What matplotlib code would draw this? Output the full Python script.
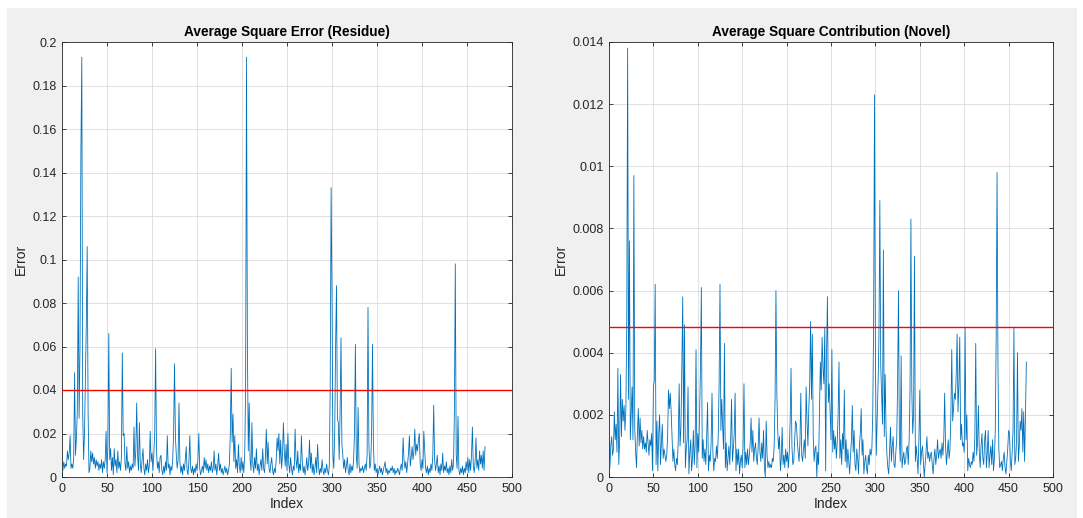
import matplotlib
matplotlib.use("Agg")
import matplotlib.pyplot as plt
from matplotlib.patches import Rectangle
from matplotlib.ticker import FuncFormatter

plt.rcParams['font.family'] = ['Liberation Sans', 'DejaVu Sans']

# ---------------- data ----------------
residue = [
    0.003, 0.007, 0.004, 0.006, 0.005, 0.012, 0.008, 0.011, 0.019, 0.004,
    0.006, 0.004, 0.009, 0.048, 0.010, 0.018, 0.030, 0.092, 0.027, 0.060,
    0.150, 0.193, 0.030, 0.008, 0.020, 0.045, 0.070, 0.106, 0.030, 0.002,
    0.004, 0.012, 0.007, 0.011, 0.006, 0.009, 0.004, 0.008, 0.005, 0.007,
    0.003, 0.006, 0.004, 0.008, 0.002, 0.007, 0.004, 0.008, 0.021, 0.002,
    0.014, 0.066, 0.008, 0.013, 0.003, 0.009, 0.001, 0.013, 0.005, 0.008,
    0.002, 0.012, 0.004, 0.007, 0.003, 0.009, 0.057, 0.019, 0.020, 0.006,
    0.003, 0.014, 0.004, 0.007, 0.002, 0.005, 0.003, 0.006, 0.004, 0.023,
    0.005, 0.012, 0.034, 0.010, 0.003, 0.025, 0.006, 0.002, 0.008, 0.013,
    0.004, 0.001, 0.006, 0.003, 0.008, 0.002, 0.005, 0.021, 0.007, 0.011,
    0.003, 0.010, 0.020, 0.059, 0.012, 0.004, 0.007, 0.002, 0.009, 0.010,
    0.003, 0.001, 0.005, 0.002, 0.007, 0.003, 0.019, 0.004, 0.006, 0.001,
    0.005, 0.003, 0.008, 0.020, 0.052, 0.019, 0.010, 0.004, 0.008, 0.034,
    0.007, 0.002, 0.005, 0.001, 0.006, 0.003, 0.008, 0.014, 0.003, 0.001,
    0.007, 0.019, 0.004, 0.002, 0.005, 0.001, 0.004, 0.002, 0.006, 0.003,
    0.008, 0.020, 0.004, 0.001, 0.003, 0.005, 0.002, 0.009, 0.004, 0.008,
    0.003, 0.006, 0.002, 0.005, 0.003, 0.007, 0.002, 0.004, 0.012, 0.003,
    0.006, 0.001, 0.005, 0.011, 0.003, 0.006, 0.002, 0.004, 0.001, 0.003,
    0.005, 0.002, 0.004, 0.001, 0.003, 0.006, 0.020, 0.050, 0.016, 0.029,
    0.007, 0.019, 0.004, 0.008, 0.002, 0.015, 0.005, 0.002, 0.009, 0.003,
    0.007, 0.002, 0.010, 0.040, 0.193, 0.060, 0.012, 0.034, 0.008, 0.003,
    0.025, 0.006, 0.002, 0.009, 0.004, 0.013, 0.003, 0.006, 0.001, 0.005,
    0.008, 0.003, 0.013, 0.004, 0.002, 0.009, 0.022, 0.006, 0.016, 0.004,
    0.002, 0.006, 0.009, 0.003, 0.001, 0.004, 0.002, 0.008, 0.018, 0.012,
    0.020, 0.006, 0.017, 0.004, 0.010, 0.025, 0.012, 0.005, 0.015, 0.003,
    0.020, 0.006, 0.002, 0.009, 0.004, 0.001, 0.005, 0.003, 0.022, 0.008,
    0.004, 0.012, 0.002, 0.006, 0.003, 0.019, 0.007, 0.002, 0.005, 0.001,
    0.004, 0.009, 0.003, 0.006, 0.017, 0.004, 0.011, 0.002, 0.006, 0.001,
    0.004, 0.009, 0.002, 0.015, 0.005, 0.001, 0.004, 0.002, 0.008, 0.003,
    0.001, 0.004, 0.002, 0.006, 0.003, 0.001, 0.005, 0.040, 0.133, 0.085,
    0.010, 0.004, 0.020, 0.060, 0.088, 0.027, 0.025, 0.008, 0.030, 0.064,
    0.015, 0.010, 0.004, 0.008, 0.002, 0.005, 0.009, 0.003, 0.001, 0.006,
    0.002, 0.005, 0.003, 0.008, 0.020, 0.061, 0.010, 0.004, 0.032, 0.006,
    0.002, 0.004, 0.003, 0.005, 0.002, 0.004, 0.006, 0.003, 0.010, 0.078,
    0.015, 0.004, 0.006, 0.020, 0.061, 0.015, 0.003, 0.006, 0.002, 0.004,
    0.001, 0.003, 0.005, 0.002, 0.004, 0.001, 0.003, 0.005, 0.007, 0.002,
    0.004, 0.001, 0.003, 0.002, 0.004, 0.003, 0.005, 0.002, 0.004, 0.001,
    0.003, 0.002, 0.004, 0.003, 0.001, 0.004, 0.006, 0.003, 0.018, 0.008,
    0.004, 0.007, 0.002, 0.006, 0.011, 0.019, 0.005, 0.009, 0.014, 0.008,
    0.012, 0.022, 0.010, 0.015, 0.012, 0.017, 0.020, 0.006, 0.003, 0.008,
    0.004, 0.021, 0.012, 0.004, 0.002, 0.005, 0.001, 0.004, 0.002, 0.006,
    0.003, 0.010, 0.033, 0.008, 0.003, 0.006, 0.010, 0.002, 0.005, 0.001,
    0.006, 0.003, 0.011, 0.002, 0.005, 0.003, 0.007, 0.002, 0.004, 0.001,
    0.005, 0.002, 0.008, 0.003, 0.006, 0.030, 0.098, 0.010, 0.004, 0.028,
    0.003, 0.001, 0.004, 0.002, 0.005, 0.001, 0.004, 0.002, 0.007, 0.003,
    0.009, 0.002, 0.008, 0.003, 0.010, 0.023, 0.005, 0.002, 0.007, 0.018,
    0.004, 0.008, 0.003, 0.012, 0.006, 0.010, 0.004, 0.012, 0.003, 0.014,
]

novel = [
    0.0003, 0.0010, 0.0013, 0.0007, 0.0009, 0.0021, 0.0012, 0.0017, 0.0008, 0.0035,
    0.0004, 0.0012, 0.0033, 0.0013, 0.0025, 0.0018, 0.0023, 0.0015, 0.0022, 0.0050,
    0.0138, 0.0025, 0.0076, 0.0012, 0.0020, 0.0029, 0.0012, 0.0097, 0.0016, 0.0008,
    0.0003, 0.0014, 0.0022, 0.0010, 0.0019, 0.0011, 0.0015, 0.0009, 0.0013, 0.0009,
    0.0011, 0.0008, 0.0015, 0.0011, 0.0007, 0.0012, 0.0010, 0.0014, 0.0002, 0.0029,
    0.0031, 0.0062, 0.0004, 0.0018, 0.0002, 0.0014, 0.0020, 0.0004, 0.0011, 0.0017,
    0.0006, 0.0009, 0.0007, 0.0005, 0.0007, 0.0013, 0.0028, 0.0022, 0.0027, 0.0021,
    0.0013, 0.0005, 0.0009, 0.0004, 0.0002, 0.0006, 0.0004, 0.0012, 0.0030, 0.0010,
    0.0016, 0.0035, 0.0058, 0.0011, 0.0049, 0.0003, 0.0009, 0.0012, 0.0029, 0.0001,
    0.0008, 0.0012, 0.0002, 0.0006, 0.0015, 0.0004, 0.0010, 0.0041, 0.0003, 0.0014,
    0.0008, 0.0020, 0.0035, 0.0061, 0.0006, 0.0012, 0.0005, 0.0009, 0.0004, 0.0013,
    0.0024, 0.0002, 0.0007, 0.0005, 0.0011, 0.0027, 0.0008, 0.0002, 0.0006, 0.0005,
    0.0010, 0.0006, 0.0013, 0.0030, 0.0062, 0.0015, 0.0025, 0.0016, 0.0009, 0.0043,
    0.0003, 0.0011, 0.0002, 0.0006, 0.0010, 0.0004, 0.0012, 0.0025, 0.0005, 0.0009,
    0.0014, 0.0027, 0.0002, 0.0009, 0.0004, 0.0009, 0.0001, 0.0005, 0.0007, 0.0003,
    0.0010, 0.0030, 0.0003, 0.0008, 0.0004, 0.0009, 0.0004, 0.0007, 0.0011, 0.0019,
    0.0008, 0.0015, 0.0005, 0.0009, 0.0011, 0.0006, 0.0004, 0.0010, 0.0019, 0.0008,
    0.0005, 0.0011, 0.0006, 0.0015, 0.0003, 0.0000, 0.0018, 0.0007, 0.0003, 0.0005,
    0.0003, 0.0004, 0.0003, 0.0006, 0.0005, 0.0010, 0.0025, 0.0060, 0.0027, 0.0015,
    0.0009, 0.0013, 0.0002, 0.0006, 0.0016, 0.0004, 0.0007, 0.0003, 0.0009, 0.0005,
    0.0008, 0.0003, 0.0008, 0.0018, 0.0035, 0.0010, 0.0004, 0.0005, 0.0011, 0.0018,
    0.0017, 0.0012, 0.0008, 0.0005, 0.0011, 0.0027, 0.0007, 0.0005, 0.0009, 0.0012,
    0.0006, 0.0029, 0.0018, 0.0010, 0.0022, 0.0030, 0.0050, 0.0025, 0.0046, 0.0013,
    0.0005, 0.0009, 0.0010, 0.0000, 0.0008, 0.0004, 0.0020, 0.0037, 0.0028, 0.0045,
    0.0035, 0.0030, 0.0048, 0.0002, 0.0040, 0.0058, 0.0024, 0.0030, 0.0021, 0.0012,
    0.0041, 0.0008, 0.0015, 0.0009, 0.0013, 0.0006, 0.0011, 0.0020, 0.0037, 0.0006,
    0.0012, 0.0004, 0.0014, 0.0009, 0.0028, 0.0005, 0.0012, 0.0003, 0.0009, 0.0005,
    0.0001, 0.0007, 0.0012, 0.0023, 0.0008, 0.0015, 0.0004, 0.0002, 0.0009, 0.0006,
    0.0001, 0.0010, 0.0014, 0.0022, 0.0007, 0.0012, 0.0001, 0.0005, 0.0007, 0.0003,
    0.0001, 0.0007, 0.0004, 0.0009, 0.0007, 0.0009, 0.0020, 0.0050, 0.0123, 0.0040,
    0.0007, 0.0018, 0.0030, 0.0045, 0.0089, 0.0036, 0.0026, 0.0017, 0.0073, 0.0013,
    0.0033, 0.0015, 0.0007, 0.0003, 0.0001, 0.0009, 0.0016, 0.0005, 0.0010, 0.0013,
    0.0004, 0.0003, 0.0008, 0.0012, 0.0030, 0.0060, 0.0012, 0.0005, 0.0039, 0.0003,
    0.0006, 0.0008, 0.0004, 0.0005, 0.0009, 0.0010, 0.0004, 0.0012, 0.0028, 0.0083,
    0.0028, 0.0014, 0.0020, 0.0071, 0.0005, 0.0010, 0.0006, 0.0001, 0.0012, 0.0028,
    0.0004, 0.0008, 0.0010, 0.0005, 0.0000, 0.0004, 0.0008, 0.0013, 0.0006, 0.0008,
    0.0005, 0.0007, 0.0008, 0.0004, 0.0001, 0.0006, 0.0009, 0.0004, 0.0007, 0.0012,
    0.0006, 0.0008, 0.0009, 0.0006, 0.0011, 0.0007, 0.0012, 0.0027, 0.0010, 0.0004,
    0.0008, 0.0012, 0.0006, 0.0009, 0.0020, 0.0041, 0.0018, 0.0022, 0.0027, 0.0025,
    0.0033, 0.0046, 0.0021, 0.0030, 0.0045, 0.0012, 0.0017, 0.0010, 0.0011, 0.0008,
    0.0048, 0.0012, 0.0020, 0.0002, 0.0006, 0.0004, 0.0003, 0.0005, 0.0004, 0.0008,
    0.0005, 0.0013, 0.0043, 0.0007, 0.0011, 0.0023, 0.0008, 0.0003, 0.0010, 0.0014,
    0.0006, 0.0004, 0.0012, 0.0015, 0.0003, 0.0008, 0.0015, 0.0003, 0.0007, 0.0010,
    0.0004, 0.0012, 0.0002, 0.0006, 0.0015, 0.0045, 0.0098, 0.0037, 0.0009, 0.0003,
    0.0004, 0.0005, 0.0002, 0.0006, 0.0008, 0.0003, 0.0001, 0.0005, 0.0009, 0.0015,
    0.0014, 0.0005, 0.0002, 0.0008, 0.0015, 0.0048, 0.0004, 0.0006, 0.0012, 0.0040,
    0.0005, 0.0010, 0.0018, 0.0015, 0.0022, 0.0008, 0.0021, 0.0005, 0.0020, 0.0037,
]

residue_threshold = 0.04
novel_threshold = 0.00482

titles = ["Average Square Error (Residue)", "Average Square Contribution (Novel)"]
x_label = "Index"
y_label = "Error"
x_ticks = [0, 50, 100, 150, 200, 250, 300, 350, 400, 450, 500]
residue_yticks = [0, 0.02, 0.04, 0.06, 0.08, 0.1, 0.12, 0.14, 0.16, 0.18, 0.2]
novel_yticks = [0, 0.002, 0.004, 0.006, 0.008, 0.01, 0.012, 0.014]

# ---------------- figure ----------------
W, H = 1083, 518
fig = plt.figure(figsize=(W / 100, H / 100), dpi=100, facecolor='white')
fig.patches.append(Rectangle((7 / W, 0), (1077 - 7) / W, (H - 8) / H,
                             transform=fig.transFigure, facecolor='#F0F0F0',
                             edgecolor='none', zorder=-10))

def px_axes(x0, x1, y0, y1):
    return fig.add_axes([x0 / W, (H - y1) / H, (x1 - x0) / W, (y1 - y0) / H])

ax1 = px_axes(62, 512, 42, 477)
ax2 = px_axes(609, 1053, 42, 477)

line_color = '#0072BD'
txt = '#262626'
fmt = FuncFormatter(lambda v, p: ('%g' % round(v, 6)))

for ax, series, thr, yt, title in [
    (ax1, residue, residue_threshold, residue_yticks, titles[0]),
    (ax2, novel, novel_threshold, novel_yticks, titles[1]),
]:
    idx = list(range(1, len(series) + 1))
    ax.plot(idx, series, color=line_color, linewidth=0.6, zorder=3)
    ax.axhline(thr, color='#FF0000', linewidth=1.0, zorder=4)
    ax.set_xlim(0, 500)
    ax.set_ylim(yt[0], yt[-1])
    ax.set_xticks(x_ticks)
    ax.set_yticks(yt)
    ax.yaxis.set_major_formatter(fmt)
    ax.grid(True, color='#DCDCDC', linewidth=0.6, zorder=0)
    ax.set_axisbelow(True)
    ax.tick_params(direction='in', length=3, width=0.6, colors=txt,
                   labelsize=9, top=True, right=True, pad=4)
    for s in ax.spines.values():
        s.set_color('#262626')
        s.set_linewidth(0.6)
    ax.set_facecolor('white')
    ax.set_title(title, fontsize=9.8, fontweight='bold', color='black', pad=4)
    ax.set_xlabel(x_label, fontsize=10, color=txt, labelpad=2)
    ax.set_ylabel(y_label, fontsize=10, color=txt, labelpad=3)

fig.savefig('out.png', dpi=100, facecolor=fig.get_facecolor())
